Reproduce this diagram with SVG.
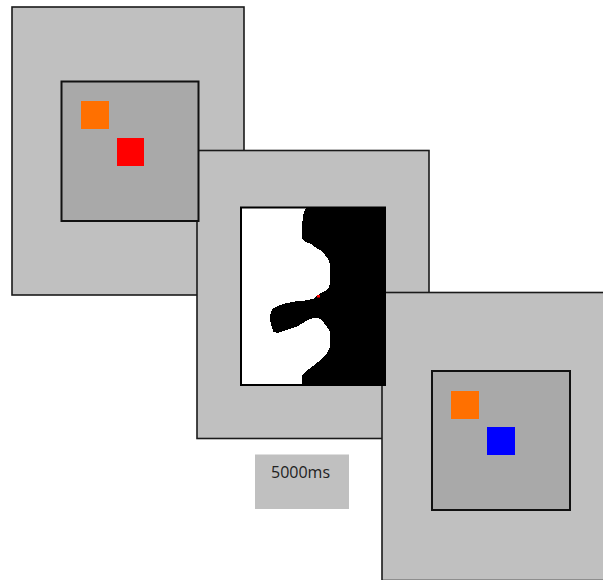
<svg xmlns="http://www.w3.org/2000/svg" width="603" height="580" viewBox="0 0 603 580">
<style>
.outer{fill:#c0c0c0;stroke:#1a1a1a;stroke-width:1.6}
.inner{fill:#a9a9a9;stroke:#111;stroke-width:2}
.sq{stroke:none}
.lbl{font-family:"Open Sans","Liberation Sans",sans-serif;font-size:16px;fill:#222}
</style>
<rect width="603" height="580" fill="#fff"/>
<g id="panel1-frame"><rect class="outer" x="12" y="7" width="232" height="288"/></g>
<g id="panel2-frame"><rect class="outer" x="197" y="150.5" width="232" height="288"/></g>
<g id="panel1">
<rect class="inner" x="61.5" y="81.5" width="137" height="139.5"/>
<rect class="sq" x="81" y="101" width="28" height="28" fill="#ff7000"/>
<rect class="sq" x="117" y="138" width="27" height="28" fill="#ff0000"/>
</g>
<g id="panel3-frame"><rect class="outer" x="382" y="292.5" width="232" height="288"/></g>
<g id="panel2">
<rect x="241" y="207.5" width="144" height="177.5" fill="#fff" stroke="#000" stroke-width="2"/>
<polygon fill="#000" shape-rendering="crispEdges" points="306,208 304,212 303,216 302.5,221 302,230 301.5,238 303,240 306,242 311,244 315,247 320,250 325,255 328,259 329.5,263 330,270 330,278 329.5,285 328,289 324,291.5 320,293.5 317,296 313,299 305,300.5 295,301.5 285,303.5 278,306 273,308.5 271,312 270,317 270.5,322 272,328 273.5,332 278,333 283,331 290,329 297,326.5 303,323 308,320 312,318.5 317,317.5 320,319 324,323 327,327 329.5,331 330,337 330,343 329.5,348 327,353 322,358 318,362 313,366 309,369 305,372 302.5,375 302,380 302,385 385,385 385,208"/>
<rect x="317" y="295" width="3" height="2.5" fill="#ff0000"/>
</g>
<g id="panel3">
<rect class="inner" x="432" y="371" width="138" height="139"/>
<rect class="sq" x="451" y="391" width="28" height="28" fill="#ff7000"/>
<rect class="sq" x="487" y="427" width="28" height="28" fill="#0000ff"/>
</g>
<g id="label">
<rect x="255" y="454.5" width="94" height="54.5" fill="#c0c0c0"/>
<text class="lbl" x="271" y="478">5000ms</text>
</g>
<g id="connectors"></g>
</svg>
